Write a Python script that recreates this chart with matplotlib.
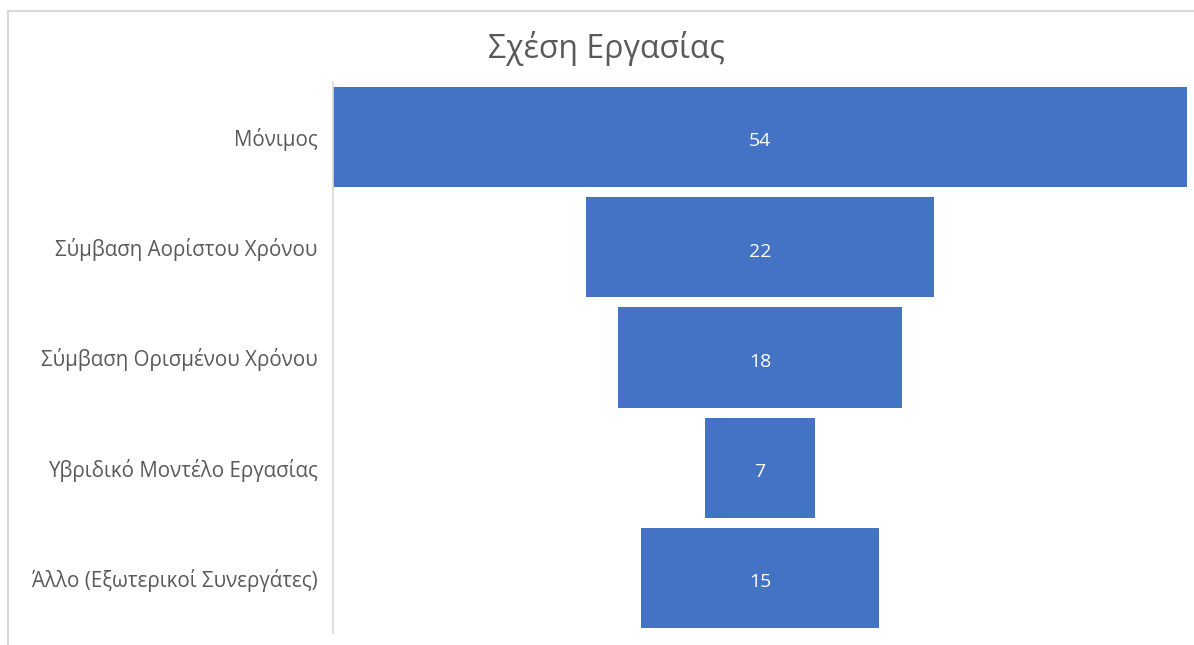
import matplotlib.pyplot as plt
from matplotlib.lines import Line2D

plt.rcParams['font.family'] = ['Open Sans', 'DejaVu Sans']

# Σχέση εργασίας - κατανομή
categories = ['Μόνιμος', 'Σύμβαση Αορίστου Χρόνου', 'Σύμβαση Ορισμένου Χρόνου',
              'Υβριδικό Μοντέλο Εργασίας', 'Άλλο (Εξωτερικοί Συνεργάτες)']
values = [54, 22, 18, 7, 15]

W, H = 1194, 645
fig = plt.figure(figsize=(W / 100, H / 100), dpi=100)

# περιθώρια άξονα σε pixels
left, right, top, bottom = 333, 1187, 82, 633
ax = fig.add_axes([left / W, 1 - bottom / H, (right - left) / W, (bottom - top) / H])

vmax = max(values)
ypos = list(range(len(categories)))
lefts = [-v / 2 for v in values]
ax.barh(ypos, values, left=lefts, height=0.91, color='#4472C4')

for y, v in zip(ypos, values):
    ax.text(0, y + 0.02, str(v), ha='center', va='center_baseline', color='white',
            fontsize=14, fontweight='medium')

ax.set_xlim(-vmax / 2, vmax / 2)
ax.set_ylim(len(categories) - 0.5, -0.5)
ax.set_yticks(ypos)
ax.set_yticklabels(categories, fontsize=14.8, color='#595959')
ax.tick_params(axis='y', length=0, pad=11)
ax.set_xticks([])
for s in ['top', 'right', 'bottom']:
    ax.spines[s].set_visible(False)
ax.spines['left'].set_color('#d9d9d9')
ax.spines['left'].set_linewidth(1.2)

fig.text(606 / W, 1 - 48 / H, 'Σχέση Εργασίας', ha='center', va='center',
         fontsize=23, color='#595959')

# πλαίσιο γραφήματος
fig.add_artist(Line2D([8 / W, 1], [1 - 11 / H, 1 - 11 / H], color='#d9d9d9', lw=1.5))
fig.add_artist(Line2D([8 / W, 8 / W], [0, 1 - 11 / H], color='#d9d9d9', lw=1.5))

fig.savefig('out.png', dpi=100)
